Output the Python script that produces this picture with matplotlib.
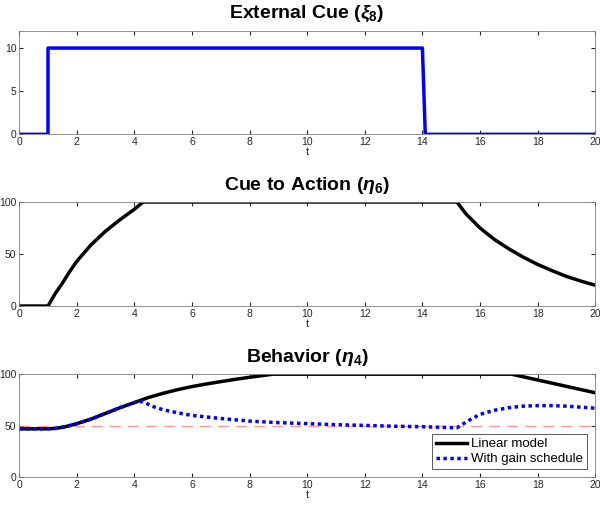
import numpy as np
import matplotlib
matplotlib.use('Agg')
import matplotlib.pyplot as plt

plt.rcParams['font.family'] = ['Liberation Sans', 'DejaVu Sans']
plt.rcParams['mathtext.fontset'] = 'custom'
plt.rcParams['mathtext.it'] = 'Liberation Sans:italic:bold'
plt.rcParams['mathtext.rm'] = 'Liberation Sans:bold'

# external cue (xi_8)
cue_t = [0, 1.0, 1.0, 14.0, 14.1, 20]
cue_v = [0, 0, 10, 10, 0, 0]

# cue to action (eta_6)
act_t = [0, 1.0, 1.25, 1.5, 1.75, 2.0, 2.5, 3.0, 3.5, 4.0, 4.3, 15.2, 15.5, 16.0, 16.5, 17.0,
         17.5, 18.0, 18.5, 19.0, 19.5, 20.0]
act_v = [0, 0, 12, 22, 33, 43, 59, 72, 83, 93, 100, 100, 89, 75, 64, 55, 47, 40, 34, 28.5,
         24, 20]

# behavior (eta_4)
lin_t = [0, 1.0, 1.3, 1.6, 2.0, 2.5, 3.0, 3.5, 4.0, 4.5, 5.0, 5.5, 6.0, 6.5, 7.0, 7.5, 8.0,
         8.4, 8.8, 17.1, 20.0]
lin_v = [47, 47, 47.5, 49, 52, 56.5, 62, 67.5, 72.5, 77.5, 81.5, 85, 88, 90.5, 92.8, 95, 97,
         98.5, 100, 100, 82]
gs_t = [0, 1.0, 1.3, 1.6, 2.0, 2.5, 3.0, 3.5, 4.0, 4.3, 4.6, 5.0, 5.5, 6.0, 7.0, 8.0, 9.0,
        10.0, 11.0, 12.0, 13.0, 14.0, 15.2, 15.6, 16.0, 16.5, 17.0, 17.5, 18.0, 18.5, 19.0,
        19.5, 20.0]
gs_v = [47, 47, 47.5, 49, 52, 56.5, 62, 67.5, 72.5, 73.5, 69, 65.5, 62.5, 60, 57, 54.5, 53,
        52, 51, 50.3, 49.5, 49, 48, 55, 61, 65, 67.5, 69, 69.5, 69.5, 69, 68, 67]
ref_level = 50

fig = plt.figure(figsize=(6, 5.05), dpi=100)

def style(ax, ylim, yticks):
    ax.set_xlim(0, 20)
    ax.set_ylim(*ylim)
    ax.set_xticks(range(0, 21, 2))
    ax.set_yticks(yticks)
    ax.tick_params(direction='in', length=3, labelsize=7.5, colors='#262626', top=True, right=True,
                   labeltop=False, labelright=False, pad=2)
    for s in ax.spines.values():
        s.set_color('#808080')
        s.set_linewidth(0.6)
    ax.set_xlabel('t', fontsize=8, labelpad=0, color='#262626')

ax1 = fig.add_axes([0.032, 0.734, 0.96, 0.205])
ax1.plot(cue_t, cue_v, color='#0000ff', lw=2.5)
style(ax1, (0, 12), [0, 5, 10])
ax1.set_title(r'External Cue ($\xi_8$)', fontsize=14, fontweight='bold', pad=9)

ax2 = fig.add_axes([0.032, 0.394, 0.96, 0.206])
ax2.plot(act_t, act_v, color='black', lw=2.5)
style(ax2, (0, 100), [0, 50, 100])
ax2.set_title(r'Cue to Action ($\eta_6$)', fontsize=14, fontweight='bold', pad=9)

ax3 = fig.add_axes([0.032, 0.055, 0.96, 0.204])
ax3.axhline(ref_level, color='#ff8080', lw=1, ls=(0, (8, 5)), alpha=0.8)
ax3.plot(lin_t, lin_v, color='black', lw=2.5, label='Linear model')
ax3.plot(gs_t, gs_v, color='#0000ff', lw=2.5, ls=(0, (1, 1)), label='With gain schedule')
style(ax3, (0, 100), [0, 50, 100])
ax3.set_title(r'Behavior ($\eta_4$)', fontsize=14, fontweight='bold', pad=9)
leg = ax3.legend(loc='lower right', fontsize=9.5, frameon=True, fancybox=False, framealpha=1,
                 borderpad=0.3, handlelength=2.4, handletextpad=0.3, labelspacing=0.2,
                 borderaxespad=0.6)
leg.get_frame().set_edgecolor('#404040')
leg.get_frame().set_linewidth(0.6)

fig.savefig('out.png', dpi=100)
